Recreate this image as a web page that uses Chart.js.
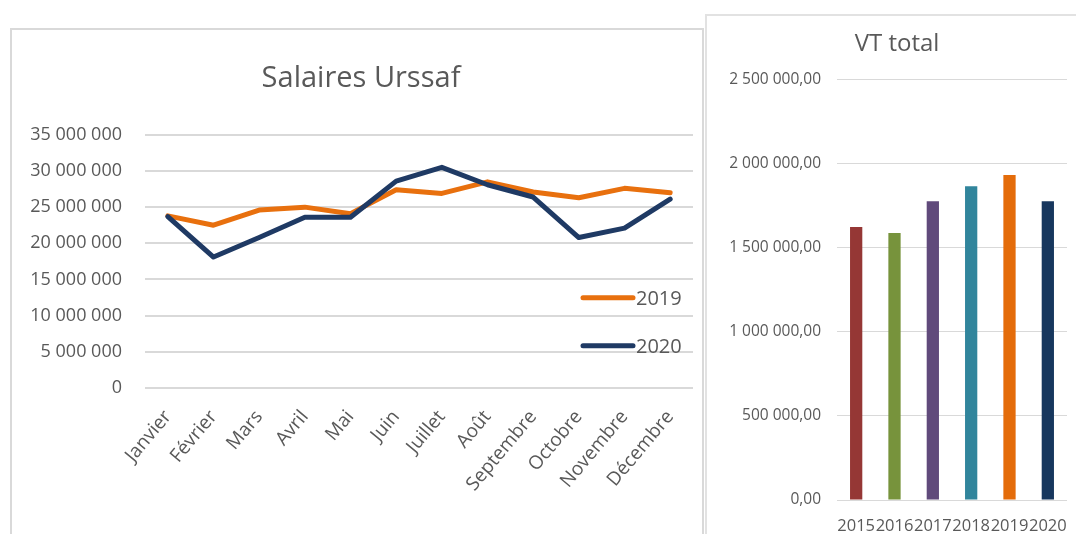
<!DOCTYPE html>
<html><head><meta charset="utf-8">
<script src="https://cdn.jsdelivr.net/npm/chart.js@4"></script>
<style>
html,body{margin:0;padding:0;background:#fff;width:1076px;height:534px;overflow:hidden;}
#p1{position:absolute;left:10px;top:28px;width:690px;height:530px;border:2px solid #D9D9D9;}
#p2{position:absolute;left:705px;top:14px;width:390px;height:540px;border:2px solid #E2E2E2;}
#w1{position:absolute;left:10px;top:29px;width:693px;height:505px;}
#w2{position:absolute;left:706px;top:15px;width:370px;height:519px;}
</style></head><body>
<div id="p1"></div><div id="p2"></div>
<div id="w1"><canvas id="c1" width="693" height="505"></canvas></div>
<div id="w2"><canvas id="c2" width="370" height="519"></canvas></div>
<script>
const months = ['Janvier','Février','Mars','Avril','Mai','Juin','Juillet','Août','Septembre','Octobre','Novembre','Décembre'];
const salaires2019 = [23800000,22500000,24600000,25000000,24100000,27400000,26900000,28500000,27100000,26300000,27600000,27000000];
const salaires2020 = [23700000,18100000,20800000,23600000,23600000,28600000,30500000,28100000,26400000,20800000,22100000,26100000];
const years = ['2015','2016','2017','2018','2019','2020'];
const vtTotal = [1624000,1589000,1777000,1867000,1933000,1777000];
const barColors = ['#953735','#77933C','#604A7B','#31859C','#E46C0A','#17375E'];

const FONT = "'Open Sans', 'DejaVu Sans', sans-serif";
const GREY = '#595959';

function groupThousands(n){
  return String(Math.round(n)).replace(/\B(?=(\d{3})+(?!\d))/g,' ');
}
function frDecimal(n){
  const [i,d] = n.toFixed(2).split('.');
  return groupThousands(Number(i)) + ',' + d;
}

const inlineLegend = {
  id:'inlineLegend',
  afterDatasetsDraw(chart, args, opts){
    const {ctx, chartArea} = chart;
    chart.data.datasets.forEach((ds,i)=>{
      const y = chartArea.top + opts.top + i*opts.gap;
      const x0 = chartArea.right - opts.right;
      ctx.save();
      ctx.strokeStyle = ds.borderColor; ctx.lineWidth = opts.lineWidth; ctx.lineCap = 'round';
      ctx.beginPath(); ctx.moveTo(x0,y); ctx.lineTo(x0+opts.lineLen,y); ctx.stroke();
      ctx.fillStyle = GREY; ctx.font = opts.fontSize + 'px ' + FONT; ctx.textBaseline = 'middle';
      ctx.fillText(ds.label, x0+opts.lineLen+3, y+1);
      ctx.restore();
    });
  }
};

new Chart(document.getElementById('c1'), {
  type:'line',
  data:{labels:months, datasets:[
    {label:'2019', data:salaires2019, borderColor:'#E8700E', backgroundColor:'#E8700E', borderWidth:5, pointRadius:0, tension:0, borderJoinStyle:'round', borderCapStyle:'round', order:1},
    {label:'2020', data:salaires2020, borderColor:'#1F3A64', backgroundColor:'#1F3A64', borderWidth:5, pointRadius:0, tension:0, borderJoinStyle:'round', borderCapStyle:'round', order:0}
  ]},
  plugins:[inlineLegend],
  options:{
    responsive:false, animation:false,
    layout:{padding:{left:19,right:10,top:0,bottom:0}},
    plugins:{
      legend:{display:false}, tooltip:{enabled:false},
      title:{display:true, text:'Salaires Urssaf', color:GREY, font:{family:FONT, size:29, weight:'normal', lineHeight:1.2}, padding:{top:32,bottom:39}},
      inlineLegend:{top:163, gap:48, right:110, lineLen:50, lineWidth:5, fontSize:20}
    },
    scales:{
      x:{type:'category', offset:true, grid:{display:false}, border:{display:false},
         ticks:{color:GREY, font:{family:FONT,size:19}, minRotation:50, maxRotation:50, padding:10, autoSkip:false},
         afterFit(s){ s.height = 146; }},
      y:{min:0, max:35000000, grid:{color:'#D9D9D9', lineWidth:2, drawTicks:false}, border:{display:false},
         ticks:{stepSize:5000000, color:GREY, font:{family:FONT,size:18}, padding:23, callback:v=>groupThousands(v)},
         afterFit(s){ s.width = 116; }}
    }
  }
});

new Chart(document.getElementById('c2'), {
  type:'bar',
  data:{labels:years, datasets:[{label:'VT total', data:vtTotal, backgroundColor:barColors, barPercentage:0.32, categoryPercentage:1}]},
  options:{
    responsive:false, animation:false,
    layout:{padding:{left:21,right:9,top:0,bottom:0}},
    plugins:{
      legend:{display:false}, tooltip:{enabled:false},
      title:{display:true, text:'VT total', color:GREY, font:{family:FONT, size:24, weight:'normal', lineHeight:1.2}, padding:{top:15,bottom:21}}
    },
    scales:{
      x:{grid:{display:false}, border:{display:false},
         ticks:{color:GREY, font:{family:FONT,size:16.5}, padding:8, maxRotation:0, autoSkip:false},
         afterFit(s){ s.height = 34; }},
      y:{min:0, max:2500000, grid:{color:'#D9D9D9', lineWidth:1, drawTicks:false}, border:{display:false},
         ticks:{stepSize:500000, color:GREY, font:{family:FONT,size:15.5}, padding:16, callback:v=>frDecimal(v)},
         afterFit(s){ s.width = 110; }}
    }
  }
});
</script>
</body></html>
